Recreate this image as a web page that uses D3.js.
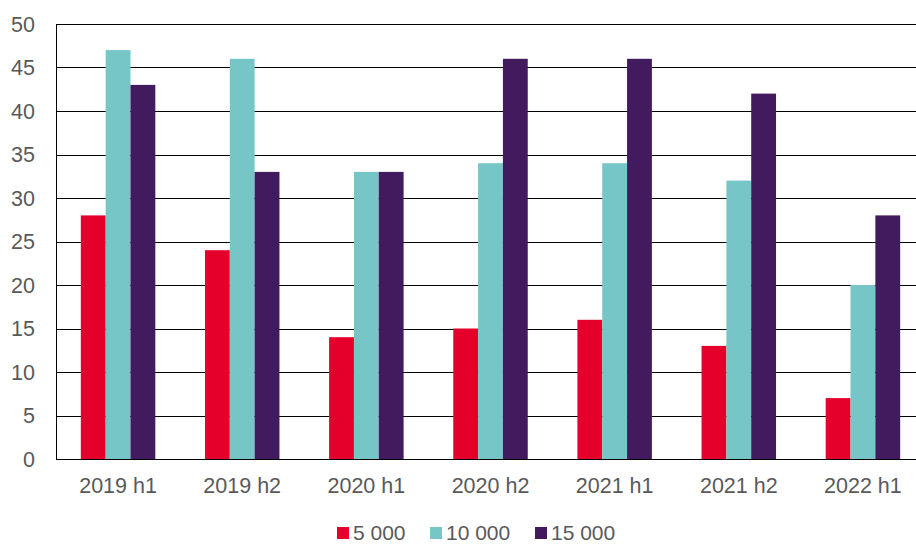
<!DOCTYPE html>
<html>
<head>
<meta charset="utf-8">
<script src="https://cdn.jsdelivr.net/npm/d3@7"></script>
<style>
  body { margin: 0; background: #fff; }
  svg { display: block; font-family: "Liberation Sans", Arial, sans-serif; }
</style>
</head>
<body>
<svg id="chart" width="916" height="545"></svg>
<script>
// categories and series
var periods = ["2019 h1", "2019 h2", "2020 h1", "2020 h2", "2021 h1", "2021 h2", "2022 h1"];
var seriesNames = ["5 000", "10 000", "15 000"];
var s5000 = [28, 24, 14, 15, 16, 13, 7];
var s10000 = [47, 46, 33, 34, 34, 32, 20];
var s15000 = [43, 33, 33, 46, 46, 42, 28];
var yTicks = [0, 5, 10, 15, 20, 25, 30, 35, 40, 45, 50];

var colors = ["#E4002B", "#76C6C7", "#421A5E"];
var allSeries = [s5000, s10000, s15000];

var svg = d3.select("#chart"),
    margin = {top: 24, right: -9, bottom: 86, left: 56},
    width = +svg.attr("width") - margin.left - margin.right,
    height = +svg.attr("height") - margin.top - margin.bottom;

var g = svg.append("g").attr("transform", "translate(" + margin.left + "," + margin.top + ")");

var x0 = d3.scaleBand().domain(periods).range([0, width]).paddingInner(0.4).paddingOuter(0.2);
var x1 = d3.scaleBand().domain(d3.range(seriesNames.length)).range([0, x0.bandwidth()]);
var y = d3.scaleLinear().domain([0, 50]).range([height, 0]);

// gridlines
g.append("g").selectAll("line")
    .data(yTicks)
    .enter().append("line")
    .attr("x1", 0).attr("x2", width)
    .attr("y1", function(d) { return Math.round(y(d)) + 0.5; })
    .attr("y2", function(d) { return Math.round(y(d)) + 0.5; })
    .attr("stroke", "#000")
    .attr("stroke-width", 1);

// bars
var groups = g.append("g").selectAll("g")
    .data(periods)
    .enter().append("g")
    .attr("transform", function(d) { return "translate(" + x0(d) + ",0)"; });

groups.selectAll("rect")
    .data(function(d, i) { return allSeries.map(function(s, k) { return {k: k, v: s[i]}; }); })
    .enter().append("rect")
    .attr("x", function(d) { return x1(d.k); })
    .attr("width", x1.bandwidth())
    .attr("y", function(d) { return y(d.v); })
    .attr("height", function(d) { return height - y(d.v); })
    .attr("fill", function(d) { return colors[d.k]; });

// left axis line
g.append("line")
    .attr("x1", 0.5).attr("x2", 0.5)
    .attr("y1", Math.round(y(50))).attr("y2", Math.round(y(0)) + 1)
    .attr("stroke", "#000");

// y tick labels
g.append("g").selectAll("text")
    .data(yTicks)
    .enter().append("text")
    .attr("x", -21)
    .attr("y", function(d) { return y(d); })
    .attr("dy", "0.36em")
    .attr("text-anchor", "end")
    .attr("font-size", "21.5px")
    .attr("fill", "#595959")
    .text(function(d) { return d; });

// x labels
g.append("g").selectAll("text")
    .data(periods)
    .enter().append("text")
    .attr("x", function(d) { return x0(d) + x0.bandwidth() / 2; })
    .attr("y", height + 34)
    .attr("text-anchor", "middle")
    .attr("font-size", "21.5px")
    .attr("fill", "#595959")
    .text(function(d) { return d; });

// legend
var legendX = [337, 430, 535];
var legend = svg.append("g").attr("font-size", "21px").attr("fill", "#595959");
seriesNames.forEach(function(name, i) {
    legend.append("rect")
        .attr("x", legendX[i]).attr("y", 527)
        .attr("width", 12).attr("height", 12)
        .attr("fill", colors[i]);
    legend.append("text")
        .attr("x", legendX[i] + 16)
        .attr("y", 540)
        .text(name);
});
</script>
</body>
</html>
